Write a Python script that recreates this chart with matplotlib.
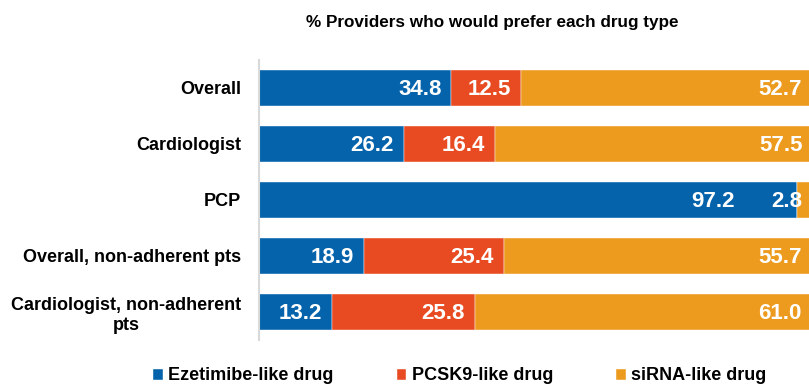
import numpy as np
import matplotlib
matplotlib.use("Agg")
import matplotlib.pyplot as plt

plt.rcParams['font.family'] = ['Liberation Sans', 'DejaVu Sans']
plt.rcParams['font.weight'] = 'bold'

groups = ["Overall", "Cardiologist", "PCP", "Overall, non-adherent pts",
          "Cardiologist, non-adherent\npts"]
series = ["Ezetimibe-like drug", "PCSK9-like drug", "siRNA-like drug"]
ezetimibe = [34.8, 26.2, 97.2, 18.9, 13.2]
pcsk9 = [12.5, 16.4, 0.0, 25.4, 25.8]
sirna = [52.7, 57.5, 2.8, 55.7, 61.0]
colors = ["#0563AB", "#E84B22", "#EC9B1F"]

W, H = 809, 384
fig = plt.figure(figsize=(W / 100, H / 100), dpi=100)
ax = fig.add_axes([259 / W, 1 - 340 / H, (812 - 259) / W, 280 / H])

y = np.arange(len(groups))
left = np.zeros(len(groups))
for k, (name, vals, c) in enumerate(zip(series, [ezetimibe, pcsk9, sirna], colors)):
    vals = np.array(vals)
    ax.barh(y, vals, left=left, height=0.66, color=c, label=name,
            edgecolor="white", linewidth=0.3)
    for yi, l, v in zip(y, left, vals):
        if v <= 0:
            continue
        dx = -10
        # tiny trailing segment: push the bigger label left so they don't collide
        if k == 0 and v > 90:
            dx = -62
        ax.annotate(f"{v:.1f}", (l + v, yi), xytext=(dx, -7),
                    textcoords="offset pixels", ha="right", va="baseline",
                    color="white", fontsize=16, fontweight="bold",
                    annotation_clip=False)
    left += vals

ax.set_xlim(0, 100)
ax.set_ylim(4.5, -0.5)
ax.set_xticks([])
ax.set_yticks(y)
ax.set_yticklabels(groups, fontsize=13, fontweight="bold")
for lab in ax.get_yticklabels():
    lab.set_multialignment("center")
ax.tick_params(axis="y", length=0, pad=13)
for s in ["top", "right", "bottom"]:
    ax.spines[s].set_visible(False)
ax.spines["left"].set_color("#D9D9D9")
ax.spines["left"].set_linewidth(1.5)

fig.text(492 / W, 1 - 23 / H, "% Providers who would prefer each drug type",
         ha="center", va="center", fontsize=12.3, fontweight="bold")

leg = fig.legend(loc="center left", bbox_to_anchor=(153 / W, 8 / H), ncol=3,
                 frameon=False, fontsize=13, handlelength=0.55, handleheight=0.55,
                 handletextpad=0.28, columnspacing=3.5, borderpad=0, borderaxespad=0)
for t in leg.get_texts():
    t.set_fontweight("bold")

fig.savefig("out.png", dpi=100)
